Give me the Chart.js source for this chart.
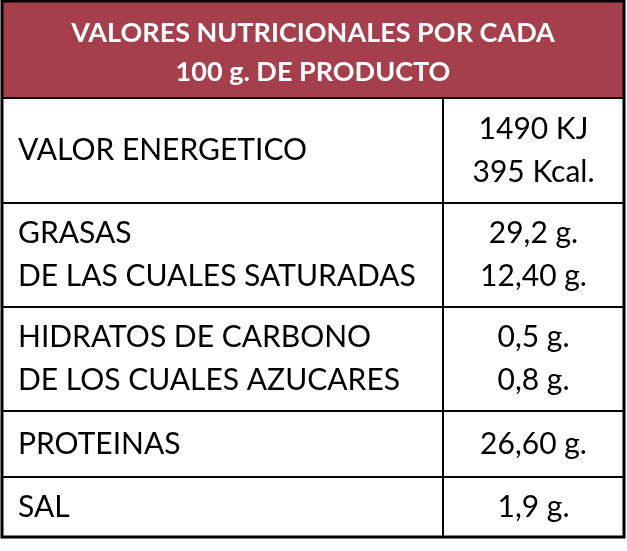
<!DOCTYPE html>
<html><head><meta charset="utf-8">
<script src="https://cdn.jsdelivr.net/npm/chart.js@4/dist/chart.umd.min.js"></script>
<style>body{margin:0;background:#fff}canvas{display:block}</style>
</head><body>
<canvas id="c" width="627" height="551"></canvas>
<script>
const title = ["VALORES NUTRICIONALES POR CADA", "100 g. DE PRODUCTO"];
const nutrients = [
    ["VALOR ENERGETICO"],
    ["GRASAS", "DE LAS CUALES SATURADAS"],
    ["HIDRATOS DE CARBONO", "DE LOS CUALES AZUCARES"],
    ["PROTEINAS"],
    ["SAL"]
];
const amounts = [
    ["1490 KJ", "395 Kcal."],
    ["29,2 g.", "12,40 g."],
    ["0,5 g.", "0,8 g."],
    ["26,60 g."],
    ["1,9 g."]
];

// layout (pixel units on hidden scales)
const rowEdges = [0, 98, 203, 307, 411, 477, 537];
const colEdges = [2, 443, 624];

const tablePlugin = {
    id: 'table',
    afterDraw(chart) {
        const ctx = chart.ctx, xs = chart.scales.x, ys = chart.scales.y;
        const X = v => xs.getPixelForValue(v), Y = v => ys.getPixelForValue(v);
        ctx.save();
        ctx.fillStyle = '#a53f4b';
        ctx.fillRect(X(colEdges[0]), Y(rowEdges[0]), X(colEdges[2]) - X(colEdges[0]), Y(rowEdges[1]) - Y(rowEdges[0]));
        ctx.fillStyle = '#fff';
        ctx.font = 'bold 27px Lato';
        ctx.textAlign = 'center';
        ctx.textBaseline = 'middle';
        ctx.fillText(title[0], X(313), Y(33), 520);
        ctx.fillText(title[1], X(313), Y(72));

        ctx.strokeStyle = '#000';
        ctx.lineWidth = 3;
        ctx.strokeRect(X(colEdges[0]), Y(rowEdges[0]) + 1, X(colEdges[2]) - X(colEdges[0]), Y(rowEdges[6]) - Y(rowEdges[0]) - 1);
        ctx.lineWidth = 2;
        for (let i = 1; i < rowEdges.length - 1; i++) {
            ctx.beginPath();
            ctx.moveTo(X(colEdges[0]), Y(rowEdges[i]));
            ctx.lineTo(X(colEdges[2]), Y(rowEdges[i]));
            ctx.stroke();
        }
        ctx.beginPath();
        ctx.moveTo(X(colEdges[1]), Y(rowEdges[1]));
        ctx.lineTo(X(colEdges[1]), Y(rowEdges[6]));
        ctx.stroke();

        ctx.fillStyle = '#000';
        ctx.font = '30px Lato';
        nutrients.forEach((lines, r) => {
            const top = Y(rowEdges[r + 1]), bot = Y(rowEdges[r + 2]);
            const mid = (top + bot) / 2, gap = 43;
            lines.forEach((t, k) => {
                const y = mid + (k - (lines.length - 1) / 2) * gap;
                ctx.textAlign = 'left';
                ctx.fillText(t, X(18), y, 418);
            });
            amounts[r].forEach((t, k) => {
                const y = mid + (k - (amounts[r].length - 1) / 2) * gap;
                ctx.textAlign = 'center';
                ctx.fillText(t, (X(colEdges[1]) + X(colEdges[2])) / 2, y);
            });
        });
        ctx.restore();
    }
};

new Chart(document.getElementById('c'), {
    type: 'bar',
    data: { labels: [], datasets: [] },
    options: {
        responsive: false,
        animation: false,
        layout: { padding: 0 },
        plugins: { legend: { display: false }, tooltip: { enabled: false } },
        scales: {
            x: { type: 'linear', min: 0, max: 627, offset: false, display: false },
            y: { type: 'linear', min: 0, max: 551, reverse: true, offset: false, display: false }
        }
    },
    plugins: [tablePlugin]
});
</script>
</body></html>
